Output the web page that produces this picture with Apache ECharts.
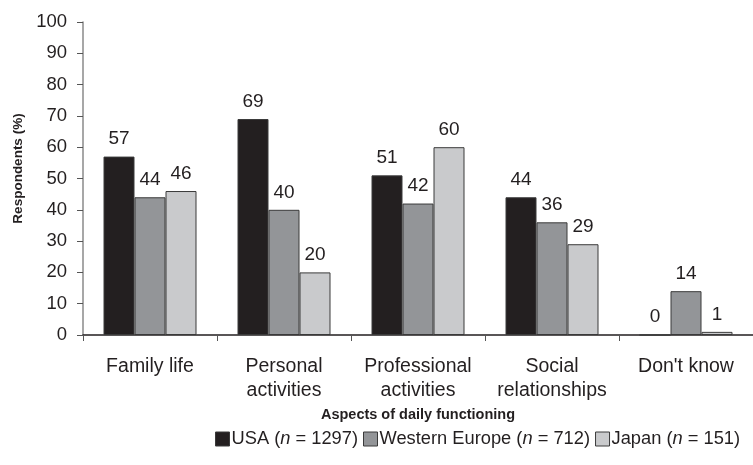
<!DOCTYPE html>
<html>
<head>
<meta charset="utf-8">
<script src="https://cdn.jsdelivr.net/npm/echarts@6/dist/echarts.min.js"></script>
<style>
html,body{margin:0;padding:0;background:#fff;}
#chart{width:753px;height:465px;}
</style>
</head>
<body>
<div id="chart"></div>
<script>
// Share of respondents by aspect of daily functioning
var categories = ['Family life', 'Personal\nactivities', 'Professional\nactivities', 'Social\nrelationships', "Don't know"];
var seriesNames = ['USA', 'Western Europe', 'Japan'];
var sampleSizes = [1297, 712, 151];
var usaValues = [57, 69, 51, 44, 0];
var europeValues = [44, 40, 42, 36, 14];
var japanValues = [46, 20, 60, 29, 1];
var yTicks = [0, 10, 20, 30, 40, 50, 60, 70, 80, 90, 100];

var FONT = 'Liberation Sans, Arial, sans-serif';
var TXT = '#231f20';
var colors = ['#231f20', '#939598', '#c9cacc'];
var allValues = [usaValues, europeValues, japanValues];

var chart = echarts.init(document.getElementById('chart'));

var series = seriesNames.map(function (name, i) {
  return {
    name: name,
    type: 'bar',
    data: allValues[i],
    barWidth: 31,
    barGap: '0%',
    itemStyle: { color: colors[i], borderColor: '#3a3a3a', borderWidth: 1 },
    label: {
      show: true,
      position: 'top',
      distance: 8,
      color: TXT,
      fontFamily: FONT,
      fontSize: 19
    }
  };
});

chart.setOption({
  animation: false,
  backgroundColor: '#fff',
  grid: { left: 83, top: 22, width: 680, height: 313 },
  legend: {
    bottom: 12,
    left: 210,
    itemWidth: 14,
    itemHeight: 14,
    itemGap: 5,
    icon: 'rect',
    itemStyle: { borderColor: '#3a3a3a', borderWidth: 1 },
    data: seriesNames,
    formatter: function (name) {
      var idx = seriesNames.indexOf(name);
      return '{a|' + name + ' (}{i|n}{a| = ' + sampleSizes[idx] + ')}';
    },
    textStyle: {
      padding: [0, 0, 0, -3],
      rich: {
        a: { fontFamily: FONT, fontSize: 18.3, color: TXT },
        i: { fontFamily: FONT, fontSize: 18.3, color: TXT, fontStyle: 'italic' }
      }
    }
  },
  xAxis: {
    type: 'category',
    data: categories,
    name: 'Aspects of daily functioning',
    nameLocation: 'middle',
    nameGap: 70,
    nameTextStyle: { fontFamily: FONT, fontSize: 14.5, fontWeight: 'bold', color: TXT },
    axisLine: { lineStyle: { color: '#231f20', width: 1.5 } },
    axisTick: { show: true, interval: 0, length: 6, lineStyle: { color: '#555' } },
    axisLabel: { interval: 0, fontFamily: FONT, fontSize: 19.5, color: TXT, margin: 20, lineHeight: 24 }
  },
  yAxis: {
    type: 'value',
    min: yTicks[0],
    max: yTicks[yTicks.length - 1],
    interval: 10,
    name: 'Respondents (%)',
    nameLocation: 'middle',
    nameGap: 53,
    nameRotate: 90,
    nameTextStyle: { fontFamily: FONT, fontSize: 13.5, fontWeight: 'bold', color: TXT, padding: [0, 0, 0, 20] },
    axisLine: { show: true, lineStyle: { color: '#8a8a8a', width: 1.5 } },
    axisTick: { show: true, length: 6, lineStyle: { color: '#555' } },
    splitLine: { show: false },
    axisLabel: { fontFamily: FONT, fontSize: 18.5, color: TXT, margin: 16 }
  },
  series: series
});
</script>
</body>
</html>
